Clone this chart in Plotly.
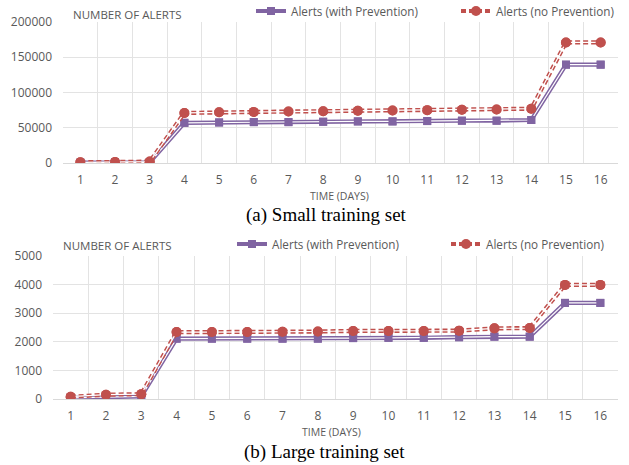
import plotly.graph_objects as go

days = [str(d) for d in range(1, 17)]

small_with = [500, 800, 1000, 57000, 57500, 58000, 58000, 58500, 59000, 59000, 59500, 60000, 60000, 61000, 139500, 139500]
small_no = [1000, 1500, 2000, 71000, 72000, 72500, 73000, 73500, 74000, 74500, 75000, 75500, 76000, 77000, 171000, 171000]

large_with = [40, 70, 90, 2110, 2110, 2110, 2110, 2110, 2130, 2140, 2140, 2160, 2180, 2180, 3360, 3360]
large_no = [80, 150, 170, 2340, 2340, 2340, 2350, 2360, 2380, 2380, 2380, 2390, 2470, 2480, 3990, 3990]

PURPLE = "#8064A2"
RED = "#C0504D"
GRAY = "#595959"
GRID = "#E3E3E3"
W, H = 629, 465
FONT = "Open Sans, Noto Sans, sans-serif"

def px_x(p):
    return p / W

def px_y(p):
    return 1 - p / H

fig = go.Figure()

def add_series(x, y, xa, ya, name, color, symbol, dash, size, legend):
    fig.add_trace(go.Scatter(x=x, y=y, xaxis=xa, yaxis=ya, name=name, mode="lines+markers",
                             line=dict(color=color, width=4.2, dash=dash),
                             marker=dict(color=color, symbol=symbol, size=size),
                             legend=legend))
    fig.add_trace(go.Scatter(x=x, y=y, xaxis=xa, yaxis=ya, mode="lines", showlegend=False,
                             line=dict(color="white", width=1.2), hoverinfo="skip"))
    fig.add_trace(go.Scatter(x=x, y=y, xaxis=xa, yaxis=ya, mode="markers", showlegend=False,
                             marker=dict(color=color, symbol=symbol, size=size), hoverinfo="skip"))

DASH = "5px,3px"
add_series(days, small_with, "x", "y", "Alerts (with Prevention)", PURPLE, "square", "solid", 8, "legend")
add_series(days, small_no, "x", "y", "Alerts (no Prevention)", RED, "circle", DASH, 10, "legend2")
add_series(days, large_with, "x2", "y2", "Alerts (with Prevention)", PURPLE, "square", "solid", 8, "legend3")
add_series(days, large_no, "x2", "y2", "Alerts (no Prevention)", RED, "circle", DASH, 10, "legend4")

tickfont = dict(family=FONT, size=12, color=GRAY)

xcommon = dict(type="category", tickson="boundaries", showgrid=True, gridcolor=GRID, gridwidth=1,
               showline=True, linecolor="#D9D9D9", ticks="", tickfont=tickfont, automargin=False,
               range=[-0.5, 15.5], ticklabelstandoff=6, zeroline=False)
ycommon = dict(showgrid=True, gridcolor=GRID, gridwidth=1, zeroline=False, tickfont=tickfont,
               ticks="", showline=False, ticklabelstandoff=10, tickformat="d", automargin=False)

def leg(xp, yp):
    return dict(orientation="h", x=px_x(xp), y=px_y(yp), xanchor="left", yanchor="middle",
                font=dict(family=FONT, size=11.7, color=GRAY), bgcolor="rgba(0,0,0,0)")

fig.update_layout(
    width=W, height=H, margin=dict(l=0, r=0, t=0, b=0, autoexpand=False),
    paper_bgcolor="white", plot_bgcolor="white",
    font=dict(family=FONT, color=GRAY),
    xaxis=dict(domain=[px_x(63), px_x(618)], anchor="y", **xcommon),
    yaxis=dict(domain=[px_y(163), px_y(22)], anchor="x", range=[0, 200000], dtick=50000, **ycommon),
    xaxis2=dict(domain=[px_x(53), px_x(618)], anchor="y2", **xcommon),
    yaxis2=dict(domain=[px_y(399), px_y(256)], anchor="x2", range=[0, 5000], dtick=1000, **ycommon),
    legend=leg(251, 11),
    legend2=leg(456, 11),
    legend3=leg(232, 244),
    legend4=leg(446, 244),
    showlegend=True,
)

ann = []
ann.append(dict(text="NUMBER OF ALERTS", x=px_x(71), y=px_y(14), xref="paper", yref="paper",
                xanchor="left", yanchor="middle", showarrow=False, font=dict(size=11.5, color=GRAY)))
ann.append(dict(text="NUMBER OF ALERTS", x=px_x(61), y=px_y(245), xref="paper", yref="paper",
                xanchor="left", yanchor="middle", showarrow=False, font=dict(size=11.5, color=GRAY)))
ann.append(dict(text="TIME (DAYS)", x=px_x(339), y=px_y(196), xref="paper", yref="paper",
                xanchor="center", yanchor="middle", showarrow=False, font=dict(size=10.5, color=GRAY)))
ann.append(dict(text="TIME (DAYS)", x=px_x(331), y=px_y(432), xref="paper", yref="paper",
                xanchor="center", yanchor="middle", showarrow=False, font=dict(size=10.5, color=GRAY)))
ann.append(dict(text="(a) Small training set", x=px_x(326), y=px_y(215), xref="paper", yref="paper",
                xanchor="center", yanchor="middle", showarrow=False,
                font=dict(family="Liberation Serif, Times New Roman, serif", size=19, color="black")))
ann.append(dict(text="(b) Large training set", x=px_x(324), y=px_y(452), xref="paper", yref="paper",
                xanchor="center", yanchor="middle", showarrow=False,
                font=dict(family="Liberation Serif, Times New Roman, serif", size=19, color="black")))
fig.update_layout(annotations=ann)

fig.write_html("out.html", config={"displayModeBar": False},
               post_script="document.body.style.margin='0';document.body.style.overflow='hidden';")
